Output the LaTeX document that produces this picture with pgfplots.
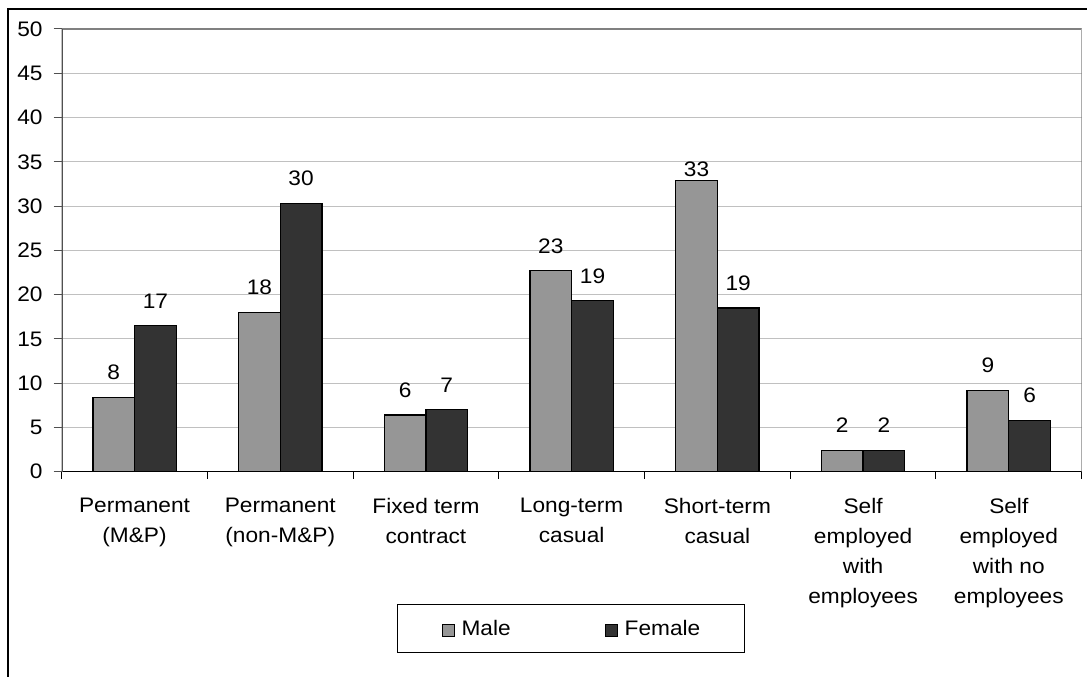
\documentclass[border=0pt]{standalone}
\usepackage{pgfplots}
\pgfplotsset{compat=1.18}
\usepackage{pgfplotstable}
\usepackage{fontspec}
\setmainfont{Liberation Sans}[FakeStretch=1.08]
\definecolor{maleC}{HTML}{969696}
\definecolor{femC}{HTML}{333333}
\definecolor{gridC}{HTML}{C0C0C0}
\definecolor{axC}{HTML}{505050}
\definecolor{boxC}{HTML}{808080}
\newcommand\cf{\fontsize{21}{30}\selectfont}

\pgfplotstableread{
x val lab off
0 8.4 8 17.5
1 18.0 18 17.5
2 6.4 6 17.5
3 22.7 23 17.5
4 32.9 33 4
5 2.4 2 17.5
6 9.2 9 17.5
}\male
\pgfplotstableread{
x val lab off
0 16.5 17 17.5
1 30.3 30 17.5
2 7.0 7 17.5
3 19.3 19 17.5
4 18.5 19 17.5
5 2.4 2 17.5
6 5.8 6 17.5
}\female

\begin{document}
\begin{tikzpicture}
\useasboundingbox (0,0) rectangle (1087pt,677pt);
\fill[white] (0,0) rectangle (1087pt,677pt);
\draw[black,line width=1.3pt] (8pt,-2pt) -- (8pt,668pt) -- (1090pt,668pt);
\begin{axis}[
 at={(61.7pt,205.3pt)}, anchor=south west, scale only axis,
 width=1020pt, height=442.7pt,
 xmin=-0.5, xmax=6.5, ymin=0, ymax=50,
 ybar, bar width=0.286,
 axis line style={draw=none},
 /pgf/number format/assume math mode=true,
 ytick={0,5,...,50}, ytick pos=left,
 xtick={0,...,6}, xtick pos=bottom,
 xticklabels={{Permanent\\(M\&P)},{Permanent\\(non-M\&P)},{Fixed term\\contract},{Long-term\\casual},{Short-term\\casual},{Self\\employed\\with\\employees},{Self\\employed\\with no\\employees}},
 minor xtick={-0.5,0.5,...,6.5},
 tick align=outside,
 major tick length=8pt, minor tick length=7pt,
 every major x tick/.append style={draw=none},
 every minor x tick/.append style={black, line width=1pt},
 every major y tick/.append style={axC, line width=1pt},
 ymajorgrids, major grid style={gridC, line width=1pt},
 yticklabel style={font=\cf, inner sep=0pt, anchor=east, xshift=-11pt},
 xticklabel style={font=\cf, inner sep=0pt, anchor=north, align=center, yshift=-18pt},
 legend columns=2,
 legend style={at={(0.4993,-0.3542)}, anchor=center, draw=black, line width=1pt, font=\cf,
   nodes={inner sep=0pt},
   /tikz/every odd column/.append style={column sep=7pt},
   /tikz/every even column/.append style={column sep=94pt}, inner xsep=44.5pt, inner ysep=16pt},
 legend image code/.code={\draw[#1, line width=1pt] (0pt,-7.5pt) rectangle (12pt,4.5pt);},
]
\addplot[fill=maleC, draw=black, line width=1.3pt, bar shift=-0.143,
  nodes near coords, point meta=explicit symbolic,
  visualization depends on={\thisrow{off} \as \myoff},
  every node near coord/.append style={anchor=base, yshift=\myoff pt, font=\cf, inner sep=0pt, text=black}]
  table[x=x, y=val, meta=lab] {\male};
\addlegendentry{Male}
\addplot[fill=femC, draw=black, line width=1.3pt, bar shift=0.143,
  nodes near coords, point meta=explicit symbolic,
  visualization depends on={\thisrow{off} \as \myoff},
  every node near coord/.append style={anchor=base, yshift=\myoff pt, font=\cf, inner sep=0pt, text=black}]
  table[x=x, y=val, meta=lab] {\female};
\addlegendentry{Female}
\draw[boxC, line width=1.3pt] (rel axis cs:0,1) -- (rel axis cs:1,1) -- (rel axis cs:1,0);
\draw[black, line width=1.3pt] (rel axis cs:0,0) -- (rel axis cs:1,0);
\draw[axC, line width=2pt] (rel axis cs:0,0) -- (rel axis cs:0,1);
\end{axis}
\end{tikzpicture}
\end{document}
